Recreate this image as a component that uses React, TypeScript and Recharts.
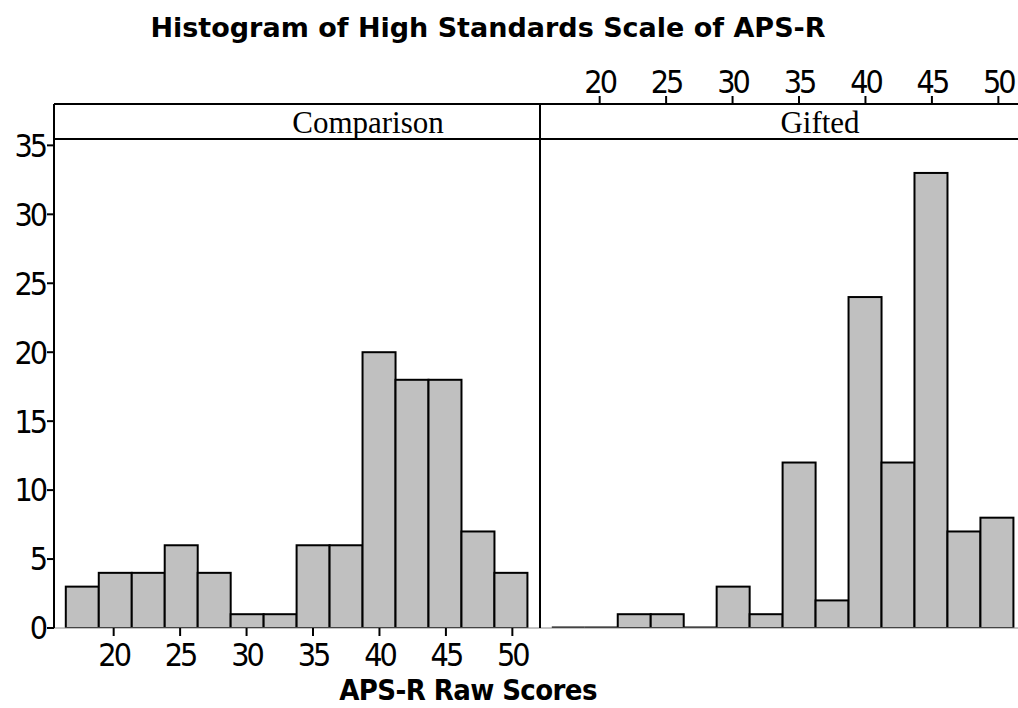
import React from 'react';
import { BarChart, Bar, XAxis, YAxis, ReferenceLine } from 'recharts';

// Histogram bins (left edge of each bin, APS-R raw score)
const binStarts = [16.4, 18.9, 21.4, 23.8, 26.3, 28.8, 31.3, 33.7, 36.2, 38.7, 41.2, 43.6, 46.1, 48.6];
// Counts per bin
const comparisonCounts = [3, 4, 4, 6, 4, 1, 1, 6, 6, 20, 18, 18, 7, 4];
const giftedCounts = [0, 0, 1, 1, 0, 3, 1, 12, 2, 24, 12, 33, 7, 8];
// Tick labels
const xTicks = [20, 25, 30, 35, 40, 45, 50];
const yTicks = [0, 5, 10, 15, 20, 25, 30, 35];
const panelNames = ['Comparison', 'Gifted'];
const chartTitle = 'Histogram of High Standards Scale of APS-R';
const xTitle = 'APS-R Raw Scores';

const compData = binStarts.map((b, i) => ({ bin: b, count: comparisonCounts[i] }));
const giftData = binStarts.map((b, i) => ({ bin: b, count: giftedCounts[i] }));

const X_DOMAIN: [number, number] = [15.51, 52.08];
const Y_DOMAIN: [number, number] = [0, 38];
const BIN_PAD = { left: 11.8, right: 12.6 };

const tickFont = {
  fontFamily: "'DejaVu Sans Condensed', 'DejaVu Sans', sans-serif",
  fontSize: 32,
  fill: '#000',
  letterSpacing: -3,
};

const HistShape = (props: any) => {
  const { x, y, width, height } = props;
  if (!height || Math.abs(height) < 0.5) {
    return <line x1={x} x2={x + width} y1={y} y2={y} stroke="#000" strokeWidth={3} />;
  }
  return <rect x={x} y={y} width={width} height={height} fill="#c0c0c0" stroke="#000" strokeWidth={2} />;
};

export default function App() {
  return (
    <div style={{ position: 'absolute', left: 0, top: 0, width: 1018, height: 708, background: '#fff', overflow: 'hidden' }}>
      <div style={{ position: 'absolute', left: 0, top: 0 }}>
        <BarChart width={560} height={708} data={compData} margin={{ top: 104, right: 20, bottom: 40, left: 0 }} barCategoryGap={0} barGap={0}>
          <XAxis xAxisId="bins" dataKey="bin" type="category" hide height={0} padding={BIN_PAD} />
          <XAxis
            xAxisId="num"
            type="number"
            dataKey="bin"
            domain={X_DOMAIN}
            allowDataOverflow
            ticks={xTicks}
            height={40}
            tickSize={8}
            tickMargin={7}
            tick={tickFont}
            axisLine={{ stroke: '#888', strokeWidth: 1 }}
            tickLine={{ stroke: '#000', strokeWidth: 2 }}
          />
          <YAxis
            width={54}
            domain={Y_DOMAIN}
            allowDataOverflow
            ticks={yTicks}
            tickSize={7}
            tickMargin={2}
            tick={tickFont}
            axisLine={{ stroke: '#000', strokeWidth: 2 }}
            tickLine={{ stroke: '#000', strokeWidth: 2 }}
          />
          <Bar xAxisId="bins" dataKey="count" isAnimationActive={false} shape={HistShape} />
        </BarChart>
      </div>
      <div style={{ position: 'absolute', left: 540, top: 0 }}>
        <BarChart width={506} height={708} data={giftData} margin={{ top: 64, right: 20, bottom: 80, left: 0 }} barCategoryGap={0} barGap={0}>
          <XAxis xAxisId="bins" dataKey="bin" type="category" hide height={0} padding={BIN_PAD} />
          <XAxis
            xAxisId="num"
            orientation="top"
            type="number"
            dataKey="bin"
            domain={X_DOMAIN}
            allowDataOverflow
            ticks={xTicks}
            height={40}
            tickSize={8}
            tickMargin={3}
            tick={tickFont}
            axisLine={{ stroke: '#000', strokeWidth: 2 }}
            tickLine={{ stroke: '#000', strokeWidth: 2 }}
          />
          <YAxis hide width={0} domain={Y_DOMAIN} allowDataOverflow />
          <ReferenceLine xAxisId="bins" y={0} stroke="#888" strokeWidth={1} />
          <Bar xAxisId="bins" dataKey="count" isAnimationActive={false} shape={HistShape} />
        </BarChart>
      </div>
      <svg width={1018} height={708} style={{ position: 'absolute', left: 0, top: 0, pointerEvents: 'none' }}>
        <line x1={54} x2={541} y1={104} y2={104} stroke="#000" strokeWidth={2} />
        <line x1={54} x2={1018} y1={139} y2={139} stroke="#000" strokeWidth={2} />
        <line x1={540} x2={540} y1={104} y2={628} stroke="#000" strokeWidth={2} />
        <text x={368} y={133} textAnchor="middle" fontFamily="'Liberation Serif', 'Times New Roman', serif" fontSize={31}>{panelNames[0]}</text>
        <text x={820} y={133} textAnchor="middle" fontFamily="'Liberation Serif', 'Times New Roman', serif" fontSize={31}>{panelNames[1]}</text>
        <text x={488} y={37} textAnchor="middle" fontFamily="'DejaVu Sans', Verdana, sans-serif" fontWeight="bold" fontSize={27}>{chartTitle}</text>
        <text x={468} y={700} textAnchor="middle" fontFamily="'DejaVu Sans Condensed', 'DejaVu Sans', sans-serif" fontWeight="bold" fontSize={29} letterSpacing={-0.6}>{xTitle}</text>
      </svg>
    </div>
  );
}
